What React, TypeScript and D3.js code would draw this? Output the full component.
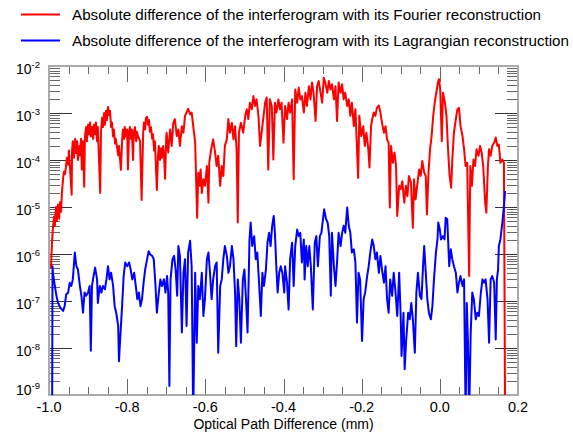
import React from 'react';
import * as d3 from 'd3';

// x = optical path difference (mm), v = log10 of the absolute difference
const fourierData: [number, number][] = [
  [-0.995,-6.3],[-0.992,-5.7],[-0.990,-5.45],[-0.987,-5.2],[-0.985,-5.4],[-0.982,-5.0],[-0.980,-5.3],[-0.977,-4.95],[-0.974,-5.25],[-0.972,-4.9],[-0.969,-5.1],[-0.967,-4.7],[-0.964,-4.4],[-0.962,-4.25],[-0.959,-4.3],[-0.956,-4.1],[-0.954,-3.95],[-0.951,-4.1],[-0.949,-3.8],[-0.942,-4.74],[-0.941,-3.8],[-0.939,-3.6],[-0.936,-3.95],[-0.933,-3.55],[-0.931,-3.85],[-0.928,-3.6],[-0.926,-4.0],[-0.923,-3.7],[-0.921,-3.9],[-0.918,-3.55],[-0.916,-4.2],[-0.913,-3.6],[-0.910,-4.57],[-0.908,-3.5],[-0.905,-3.3],[-0.903,-3.6],[-0.900,-3.25],[-0.898,-3.45],[-0.895,-3.2],[-0.893,-3.5],[-0.890,-3.3],[-0.887,-3.55],[-0.885,-3.25],[-0.882,-3.45],[-0.880,-3.2],[-0.877,-3.6],[-0.875,-3.3],[-0.869,-4.70],[-0.867,-3.4],[-0.864,-3.1],[-0.862,-3.3],[-0.859,-3.0],[-0.857,-3.25],[-0.854,-2.95],[-0.852,-3.15],[-0.849,-2.87],[-0.846,-3.05],[-0.844,-2.95],[-0.841,-3.3],[-0.839,-3.2],[-0.836,-3.5],[-0.834,-3.35],[-0.831,-3.65],[-0.829,-3.55],[-0.823,-3.9],[-0.821,-3.7],[-0.816,-4.21],[-0.813,-3.6],[-0.811,-3.35],[-0.808,-3.55],[-0.806,-3.3],[-0.803,-3.5],[-0.800,-3.35],[-0.798,-4.2],[-0.795,-3.4],[-0.793,-3.3],[-0.790,-3.55],[-0.788,-3.35],[-0.785,-4.0],[-0.783,-3.4],[-0.780,-3.3],[-0.777,-3.6],[-0.775,-3.4],[-0.772,-3.5],[-0.767,-3.6],[-0.763,-4.85],[-0.759,-3.4],[-0.757,-3.2],[-0.754,-3.35],[-0.752,-3.1],[-0.749,-3.08],[-0.747,-3.25],[-0.744,-3.15],[-0.742,-3.4],[-0.739,-3.3],[-0.736,-3.55],[-0.734,-3.45],[-0.731,-3.8],[-0.729,-3.6],[-0.724,-4.64],[-0.721,-3.9],[-0.719,-3.7],[-0.716,-4.0],[-0.713,-3.75],[-0.711,-3.95],[-0.708,-3.7],[-0.706,-3.85],[-0.703,-4.4],[-0.700,-3.5],
  [-0.699,-3.42],[-0.695,-3.84],[-0.690,-3.35],[-0.686,-3.70],[-0.682,-3.21],[-0.678,-3.13],[-0.673,-3.49],[-0.669,-3.35],[-0.665,-3.70],[-0.660,-3.28],[-0.656,-3.42],[-0.652,-3.06],[-0.648,-2.99],[-0.644,-2.91],[-0.639,-3.03],[-0.635,-2.99],[-0.631,-3.28],[-0.626,-3.63],[-0.621,-5.23],[-0.618,-4.27],[-0.615,-4.55],[-0.612,-4.20],[-0.609,-4.70],[-0.605,-4.41],[-0.601,-4.55],[-0.596,-4.13],[-0.592,-4.91],[-0.590,-4.06],[-0.585,-3.77],[-0.580,-3.56],[-0.575,-3.84],[-0.571,-4.13],[-0.567,-3.91],[-0.562,-4.55],[-0.558,-4.13],[-0.554,-4.34],[-0.550,-3.70],[-0.545,-3.56],[-0.541,-3.13],[-0.537,-3.42],[-0.532,-3.21],[-0.528,-3.56],[-0.524,-3.28],[-0.520,-3.77],[-0.517,-5.33],[-0.514,-3.42],[-0.509,-3.21],[-0.503,-3.42],[-0.498,-3.06],[-0.494,-2.92],[-0.490,-3.13],[-0.486,-2.78],[-0.481,-2.92],[-0.477,-2.64],[-0.473,-2.85],[-0.469,-2.71],[-0.464,-3.06],[-0.460,-3.70],[-0.456,-3.42],[-0.452,-3.13],[-0.447,-2.78],[-0.443,-2.67],[-0.439,-4.20],[-0.435,-2.71],[-0.430,-2.85],[-0.426,-3.99],[-0.422,-2.78],[-0.418,-2.99],[-0.413,-2.71],[-0.409,-2.92],[-0.405,-2.78],
  [-0.400,-3.63],[-0.396,-2.85],[-0.391,-3.13],[-0.387,-2.78],[-0.383,-2.99],[-0.378,-2.71],[-0.374,-4.41],[-0.370,-2.50],[-0.365,-2.78],[-0.361,-2.46],[-0.357,-2.71],[-0.353,-2.64],[-0.348,-2.99],[-0.344,-2.57],[-0.340,-2.85],[-0.335,-2.43],[-0.331,-2.71],[-0.327,-2.35],[-0.323,-2.57],[-0.318,-3.17],[-0.314,-2.43],[-0.310,-2.32],[-0.306,-2.53],[-0.301,-2.78],[-0.297,-2.25],[-0.293,-2.35],[-0.288,-2.57],[-0.284,-2.32],[-0.280,-2.50],[-0.276,-2.39],[-0.271,-2.71],[-0.267,-2.43],[-0.263,-3.17],[-0.259,-2.35],[-0.254,-2.57],[-0.250,-2.39],[-0.246,-2.71],[-0.242,-2.57],[-0.237,-2.85],[-0.233,-2.71],[-0.229,-3.06],[-0.225,-2.78],[-0.220,-3.28],[-0.216,-2.92],[-0.209,-4.38],[-0.206,-3.06],[-0.201,-3.49],[-0.196,-3.28],[-0.192,-3.70],[-0.188,-3.42],[-0.183,-3.77],[-0.180,-4.16],[-0.176,-3.28],[-0.173,-3.13],[-0.169,-2.99],[-0.165,-3.06],[-0.161,-2.89],[-0.156,-2.84],[-0.152,-2.99],[-0.148,-3.21],[-0.143,-3.42],[-0.139,-3.28],[-0.135,-3.56],[-0.131,-3.63],[-0.128,-5.01],[-0.125,-3.70],[-0.120,-4.06],[-0.116,-3.84],[-0.112,-4.13],[-0.109,-5.19],[-0.104,-4.55],
  [-0.100,-4.62],[-0.096,-4.45],[-0.091,-4.91],[-0.087,-4.55],[-0.083,-4.77],[-0.079,-4.34],[-0.074,-4.48],[-0.069,-5.44],[-0.066,-4.41],[-0.062,-4.84],[-0.058,-4.55],[-0.053,-4.20],[-0.049,-4.34],[-0.045,-4.02],[-0.040,-4.27],[-0.036,-4.34],[-0.033,-5.16],[-0.029,-4.27],[-0.025,-3.77],[-0.021,-3.49],[-0.017,-3.06],[-0.012,-2.71],[-0.009,-2.57],[-0.005,-2.35],[-0.002,-2.28],[0.001,-2.50],[0.005,-3.60],[0.008,-2.57],[0.013,-2.78],[0.017,-3.06],[0.021,-3.77],[0.025,-4.34],[0.029,-4.59],[0.032,-3.99],[0.036,-3.42],[0.041,-3.13],[0.045,-2.92],[0.049,-2.89],[0.053,-3.28],[0.058,-3.49],[0.062,-3.77],[0.066,-4.13],[0.070,-4.06],[0.075,-6.47],[0.078,-4.13],[0.082,-4.55],[0.086,-3.99],[0.090,-4.13],[0.094,-3.77],[0.099,-3.91],[0.103,-3.70],[0.107,-3.84],[0.111,-4.13],[0.116,-4.91],[0.119,-5.12],[0.123,-4.13],[0.126,-3.77],[0.130,-3.91],[0.134,-3.70],[0.139,-3.63],[0.143,-3.52],[0.147,-3.70],[0.151,-3.67],[0.155,-4.06],[0.160,-3.99],[0.164,-4.06],[0.167,-9.5]
];

const lagrangeData: [number, number][] = [
  [-0.992,-9.5],[-0.991,-6.26],[-0.990,-6.40],[-0.985,-6.68],[-0.981,-6.89],[-0.977,-7.04],[-0.971,-7.14],[-0.964,-7.21],[-0.960,-7.11],[-0.956,-6.86],[-0.951,-6.82],[-0.947,-6.61],[-0.943,-6.68],[-0.939,-6.54],[-0.934,-5.97],[-0.930,-6.26],[-0.926,-6.33],[-0.921,-6.68],[-0.917,-6.89],[-0.913,-7.25],[-0.909,-6.82],[-0.905,-6.89],[-0.900,-6.82],[-0.896,-6.68],[-0.893,-8.06],[-0.890,-6.68],[-0.886,-6.47],[-0.882,-6.29],[-0.877,-6.54],[-0.875,-7.04],[-0.870,-6.68],[-0.866,-6.82],[-0.862,-6.68],[-0.857,-6.75],[-0.853,-6.54],[-0.849,-6.26],[-0.845,-6.54],[-0.841,-6.40],[-0.836,-6.68],[-0.832,-7.11],[-0.828,-7.25],[-0.823,-7.53],[-0.821,-8.28],[-0.818,-7.82],[-0.813,-7.11],[-0.809,-6.47],[-0.805,-6.18],[-0.800,-6.26],[-0.795,-6.18],[-0.791,-6.33],[-0.787,-6.54],[-0.782,-6.40],[-0.778,-6.68],[-0.774,-6.96],[-0.770,-6.82],[-0.766,-7.11],[-0.762,-6.96],[-0.758,-6.61],[-0.754,-6.33],[-0.749,-6.11],[-0.745,-5.94],[-0.741,-6.01],[-0.736,-6.04],[-0.732,-6.11],[-0.728,-6.61],[-0.724,-7.25],[-0.719,-6.82],[-0.715,-6.54],[-0.711,-6.68],[-0.706,-6.54],[-0.702,-6.82],[-0.698,-6.47],
  [-0.695,-6.82],[-0.692,-8.81],[-0.689,-6.54],[-0.684,-6.11],[-0.680,-6.04],[-0.676,-6.33],[-0.672,-6.89],[-0.669,-5.83],[-0.665,-6.04],[-0.660,-7.67],[-0.656,-6.40],[-0.652,-6.11],[-0.648,-7.53],[-0.644,-5.97],[-0.639,-5.72],[-0.635,-6.26],[-0.631,-9.5],[-0.626,-6.40],[-0.622,-7.89],[-0.618,-6.68],[-0.614,-6.96],[-0.609,-6.40],[-0.605,-7.32],[-0.601,-6.96],[-0.596,-6.11],[-0.592,-5.97],[-0.588,-6.40],[-0.584,-6.96],[-0.580,-6.54],[-0.575,-6.26],[-0.571,-6.18],[-0.567,-8.10],[-0.562,-6.68],[-0.558,-6.54],[-0.554,-6.11],[-0.550,-5.83],[-0.545,-6.04],[-0.541,-6.40],[-0.537,-6.26],[-0.532,-5.83],[-0.528,-6.11],[-0.524,-6.82],[-0.521,-7.96],[-0.517,-6.54],[-0.513,-6.96],[-0.509,-7.89],[-0.504,-6.54],[-0.500,-6.33],[-0.496,-6.96],[-0.492,-7.67],[-0.487,-5.69],[-0.484,-5.33],[-0.480,-5.83],[-0.475,-5.62],[-0.471,-6.11],[-0.467,-5.97],[-0.463,-6.54],[-0.458,-7.32],[-0.454,-6.40],[-0.450,-6.68],[-0.445,-6.33],[-0.441,-5.76],[-0.437,-5.55],[-0.433,-5.83],[-0.429,-5.40],[-0.425,-5.19],[-0.422,-5.55],[-0.418,-6.33],[-0.415,-6.82],[-0.411,-6.40],[-0.407,-6.26],[-0.403,-6.40],
  [-0.398,-6.82],[-0.396,-6.26],[-0.391,-6.61],[-0.387,-7.18],[-0.383,-6.11],[-0.378,-5.76],[-0.374,-6.68],[-0.370,-5.83],[-0.365,-5.48],[-0.361,-5.62],[-0.357,-5.55],[-0.353,-6.18],[-0.348,-5.69],[-0.346,-6.54],[-0.342,-5.83],[-0.338,-6.26],[-0.334,-5.83],[-0.330,-6.26],[-0.325,-7.18],[-0.320,-5.76],[-0.316,-5.62],[-0.312,-6.26],[-0.307,-5.62],[-0.303,-5.55],[-0.299,-5.26],[-0.296,-5.05],[-0.291,-5.26],[-0.287,-5.33],[-0.283,-5.62],[-0.279,-6.89],[-0.276,-5.55],[-0.271,-6.26],[-0.267,-6.68],[-0.263,-6.18],[-0.259,-5.55],[-0.254,-5.83],[-0.250,-5.55],[-0.246,-5.40],[-0.242,-5.55],[-0.237,-5.01],[-0.233,-5.40],[-0.229,-5.55],[-0.225,-5.97],[-0.220,-5.90],[-0.216,-6.18],[-0.212,-7.46],[-0.208,-6.40],[-0.204,-6.54],[-0.199,-7.85],[-0.195,-6.96],[-0.191,-6.82],[-0.186,-6.47],[-0.182,-6.26],[-0.178,-5.97],[-0.173,-5.69],[-0.169,-5.83],[-0.165,-6.11],[-0.161,-5.97],[-0.156,-6.40],[-0.152,-6.04],[-0.148,-6.33],[-0.143,-6.61],[-0.139,-6.26],[-0.135,-6.96],[-0.131,-7.25],[-0.127,-6.54],[-0.122,-6.89],[-0.118,-6.40],[-0.114,-6.75],[-0.109,-7.32],[-0.104,-6.40],
  [-0.100,-7.39],[-0.098,-8.17],[-0.096,-7.82],[-0.093,-7.25],[-0.090,-8.45],[-0.086,-7.82],[-0.081,-7.25],[-0.077,-7.39],[-0.073,-7.04],[-0.069,-7.39],[-0.064,-8.10],[-0.060,-6.82],[-0.056,-6.40],[-0.051,-6.89],[-0.047,-6.96],[-0.043,-6.26],[-0.040,-5.83],[-0.036,-6.40],[-0.032,-6.96],[-0.028,-7.25],[-0.023,-7.39],[-0.019,-7.11],[-0.015,-6.54],[-0.010,-5.97],[-0.006,-5.69],[-0.004,-5.33],[0.000,-5.48],[0.003,-5.69],[0.008,-5.62],[0.012,-5.69],[0.015,-5.23],[0.019,-5.26],[0.024,-6.26],[0.028,-5.90],[0.032,-6.11],[0.036,-6.26],[0.041,-6.40],[0.045,-6.82],[0.049,-6.61],[0.053,-6.47],[0.058,-6.68],[0.062,-6.54],[0.066,-9.5],[0.069,-7.04],[0.072,-7.89],[0.075,-9.5],[0.079,-7.67],[0.083,-6.82],[0.087,-6.96],[0.092,-7.39],[0.096,-7.25],[0.100,-7.32],[0.105,-6.82],[0.109,-6.54],[0.113,-6.61],[0.117,-6.54],[0.122,-6.96],[0.126,-7.89],[0.130,-6.54],[0.134,-6.47],[0.139,-6.61],[0.143,-7.82],[0.146,-6.54],[0.149,-6.33],[0.151,-5.83],[0.155,-5.69],[0.160,-5.33],[0.164,-4.98],[0.167,-4.66]
];

const xMajorTicks = [-1.0, -0.8, -0.6, -0.4, -0.2, 0.0, 0.2];
const xTickLabels = ['-1.0', '-0.8', '-0.6', '-0.4', '-0.2', '0.0', '0.2'];
const xMinorStep = 0.05;
const yDecades = [-9, -8, -7, -6, -5, -4, -3, -2];
const legendLabels = [
  'Absolute difference of the interferogram with its Fourier reconstruction',
  'Absolute difference of the interferogram with its Lagrangian reconstruction',
];
const seriesColors = ['#ff0000', '#0000ff'];
const xTitle = 'Optical Path Difference (mm)';

const W = 573, H = 435;
const PL = 49, PR = 518, PT = 66, PB = 395;
const FONT = '"Liberation Sans", Arial, Helvetica, sans-serif';

export default function App() {
  const x = d3.scaleLinear().domain([-1.0, 0.2]).range([PL, PR]);
  const y = d3.scaleLog().domain([1e-9, 1e-2]).range([PB, PT]);
  const line = d3
    .line<[number, number]>()
    .x((d) => x(d[0]))
    .y((d) => y(Math.pow(10, d[1])));

  const xMinor = d3.range(0, Math.round(1.2 / xMinorStep) + 1).map((i) => -1 + i * xMinorStep);
  const yMinor: number[] = [];
  yDecades.slice(0, -1).forEach((e) => {
    for (let k = 2; k <= 9; k++) yMinor.push(k * Math.pow(10, e));
  });

  const tickColor = '#666';
  const frameColor = '#aaa';

  return (
    <svg width={W} height={H} style={{ position: 'absolute', left: 0, top: 0, background: '#fff' }} fontFamily={FONT}>
      <defs>
        <clipPath id="plotClip">
          <rect x={PL} y={PT} width={PR - PL} height={PB - PT} />
        </clipPath>
      </defs>
      <rect x={0} y={0} width={W} height={H} fill="#fff" />

      {/* x ticks (bottom and top) */}
      {xMinor.map((v, i) => {
        const px = Math.round(x(v)) + 0.5;
        const len = i % 4 === 0 ? 16 : 8;
        return (
          <g key={'xt' + i} stroke={tickColor} strokeWidth={1}>
            <line x1={px} x2={px} y1={PB} y2={PB - len} />
            <line x1={px} x2={px} y1={PT} y2={PT + len} />
          </g>
        );
      })}
      {/* y minor ticks */}
      {yMinor.map((v, i) => {
        const py = Math.round(y(v)) + 0.5;
        return (
          <g key={'ym' + i} stroke={tickColor} strokeWidth={1}>
            <line x1={PL} x2={PL + 11} y1={py} y2={py} />
            <line x1={PR} x2={PR - 11} y1={py} y2={py} />
          </g>
        );
      })}
      {/* y major ticks */}
      {yDecades.map((e) => {
        const py = Math.round(y(Math.pow(10, e))) + 0.5;
        return (
          <g key={'yM' + e} stroke="#333" strokeWidth={1}>
            <line x1={PL} x2={PL + 23} y1={py} y2={py} />
            <line x1={PR} x2={PR - 23} y1={py} y2={py} />
          </g>
        );
      })}
      {/* frame */}
      <rect x={PL} y={PT} width={PR - PL} height={PB - PT} fill="none" stroke={frameColor} strokeWidth={2} />

      {/* data */}
      <g clipPath="url(#plotClip)" fill="none" strokeLinejoin="round">
        <path d={line(fourierData) || ''} stroke={seriesColors[0]} strokeWidth={2} />
        <path d={line(lagrangeData) || ''} stroke={seriesColors[1]} strokeWidth={2} />
      </g>

      {/* y labels */}
      {yDecades.map((e) => {
        const py = y(Math.pow(10, e)) + (e === -9 ? 0 : 8);
        return (
          <text key={'yl' + e} x={40} y={py} fontSize={14} textAnchor="end" fill="#000">
            10
            <tspan fontSize={9.5} dy={-6}>{String(e)}</tspan>
          </text>
        );
      })}

      {/* x labels */}
      {xMajorTicks.map((v, i) => (
        <text key={'xl' + i} x={x(v)} y={412} fontSize={14.5} textAnchor="middle" fill="#000">
          {xTickLabels[i]}
        </text>
      ))}
      <text x={(PL + PR) / 2} y={429} fontSize={14} textAnchor="middle" fill="#000">
        {xTitle}
      </text>

      {/* legend */}
      {legendLabels.map((lbl, i) => {
        const ly = 14.5 + i * 26;
        return (
          <g key={'lg' + i}>
            <line x1={21} x2={60} y1={ly} y2={ly} stroke={seriesColors[i]} strokeWidth={1.8} />
            <text x={72} y={ly + 5.5} fontSize={15.2} fill="#000">
              {lbl}
            </text>
          </g>
        );
      })}
    </svg>
  );
}
